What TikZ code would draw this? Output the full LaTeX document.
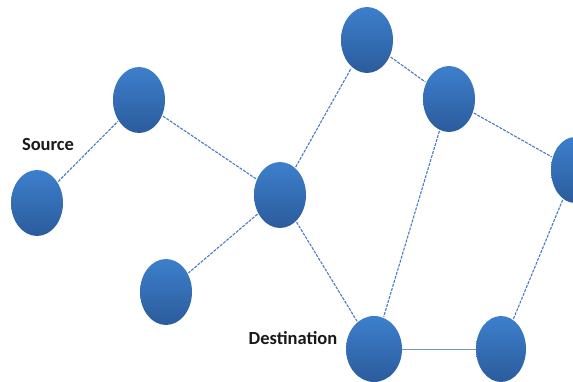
\documentclass[tikz,border=0pt]{standalone}
\usepackage{fontspec}
\setmainfont{Carlito}
\usetikzlibrary{shapes.geometric}
\definecolor{nodetop}{HTML}{3D7FCC}
\definecolor{nodebot}{HTML}{2B5C9C}
\definecolor{linkc}{HTML}{4A7BBE}
\definecolor{solidc}{HTML}{7097CC}
\tikzset{
  netnode/.style={ellipse, minimum width=52pt, minimum height=66pt, inner sep=0pt,
    top color=nodetop, bottom color=nodebot, draw=none},
  link/.style={draw=linkc, line width=1.1pt, dash pattern=on 3pt off 1.2pt, shorten <=1pt, shorten >=1pt},
  solidlink/.style={draw=solidc, line width=1pt},
  lbl/.style={font=\bfseries\fontsize{18.5}{20}\selectfont, text=black!90, inner sep=0pt}
}
\begin{document}
\begin{tikzpicture}[x=1pt,y=-1pt]
\useasboundingbox (0,0) rectangle (573,382);
\clip (0,0) rectangle (573,382);
\node[netnode] (A) at (37,203) {};
\node[netnode] (B) at (139,100) {};
\node[netnode] (C) at (280,195) {};
\node[netnode] (D) at (166,292) {};
\node[netnode] (E) at (367,40) {};
\node[netnode] (F) at (449,99) {};
\node[netnode, minimum width=48pt] (G) at (575,170) {};
\node[netnode, minimum width=56pt] (H) at (374,349) {};
\node[netnode, minimum width=50pt] (I) at (501,349) {};
\node[lbl] (src) at (48,145) {Source};
\node[lbl] (dst) at (293,338) {Destination};
\draw[link] (A) -- (B);
\draw[link] (B) -- (C);
\draw[link] (C) -- (D);
\draw[link] (C) -- (E);
\draw[link] (C) -- (H);
\draw[link] (E) -- (F);
\draw[link] (F) -- (G);
\draw[link] (F) -- (H);
\draw[link] (G) -- (I);
\draw[solidlink] (H) -- (I);
\end{tikzpicture}
\end{document}
